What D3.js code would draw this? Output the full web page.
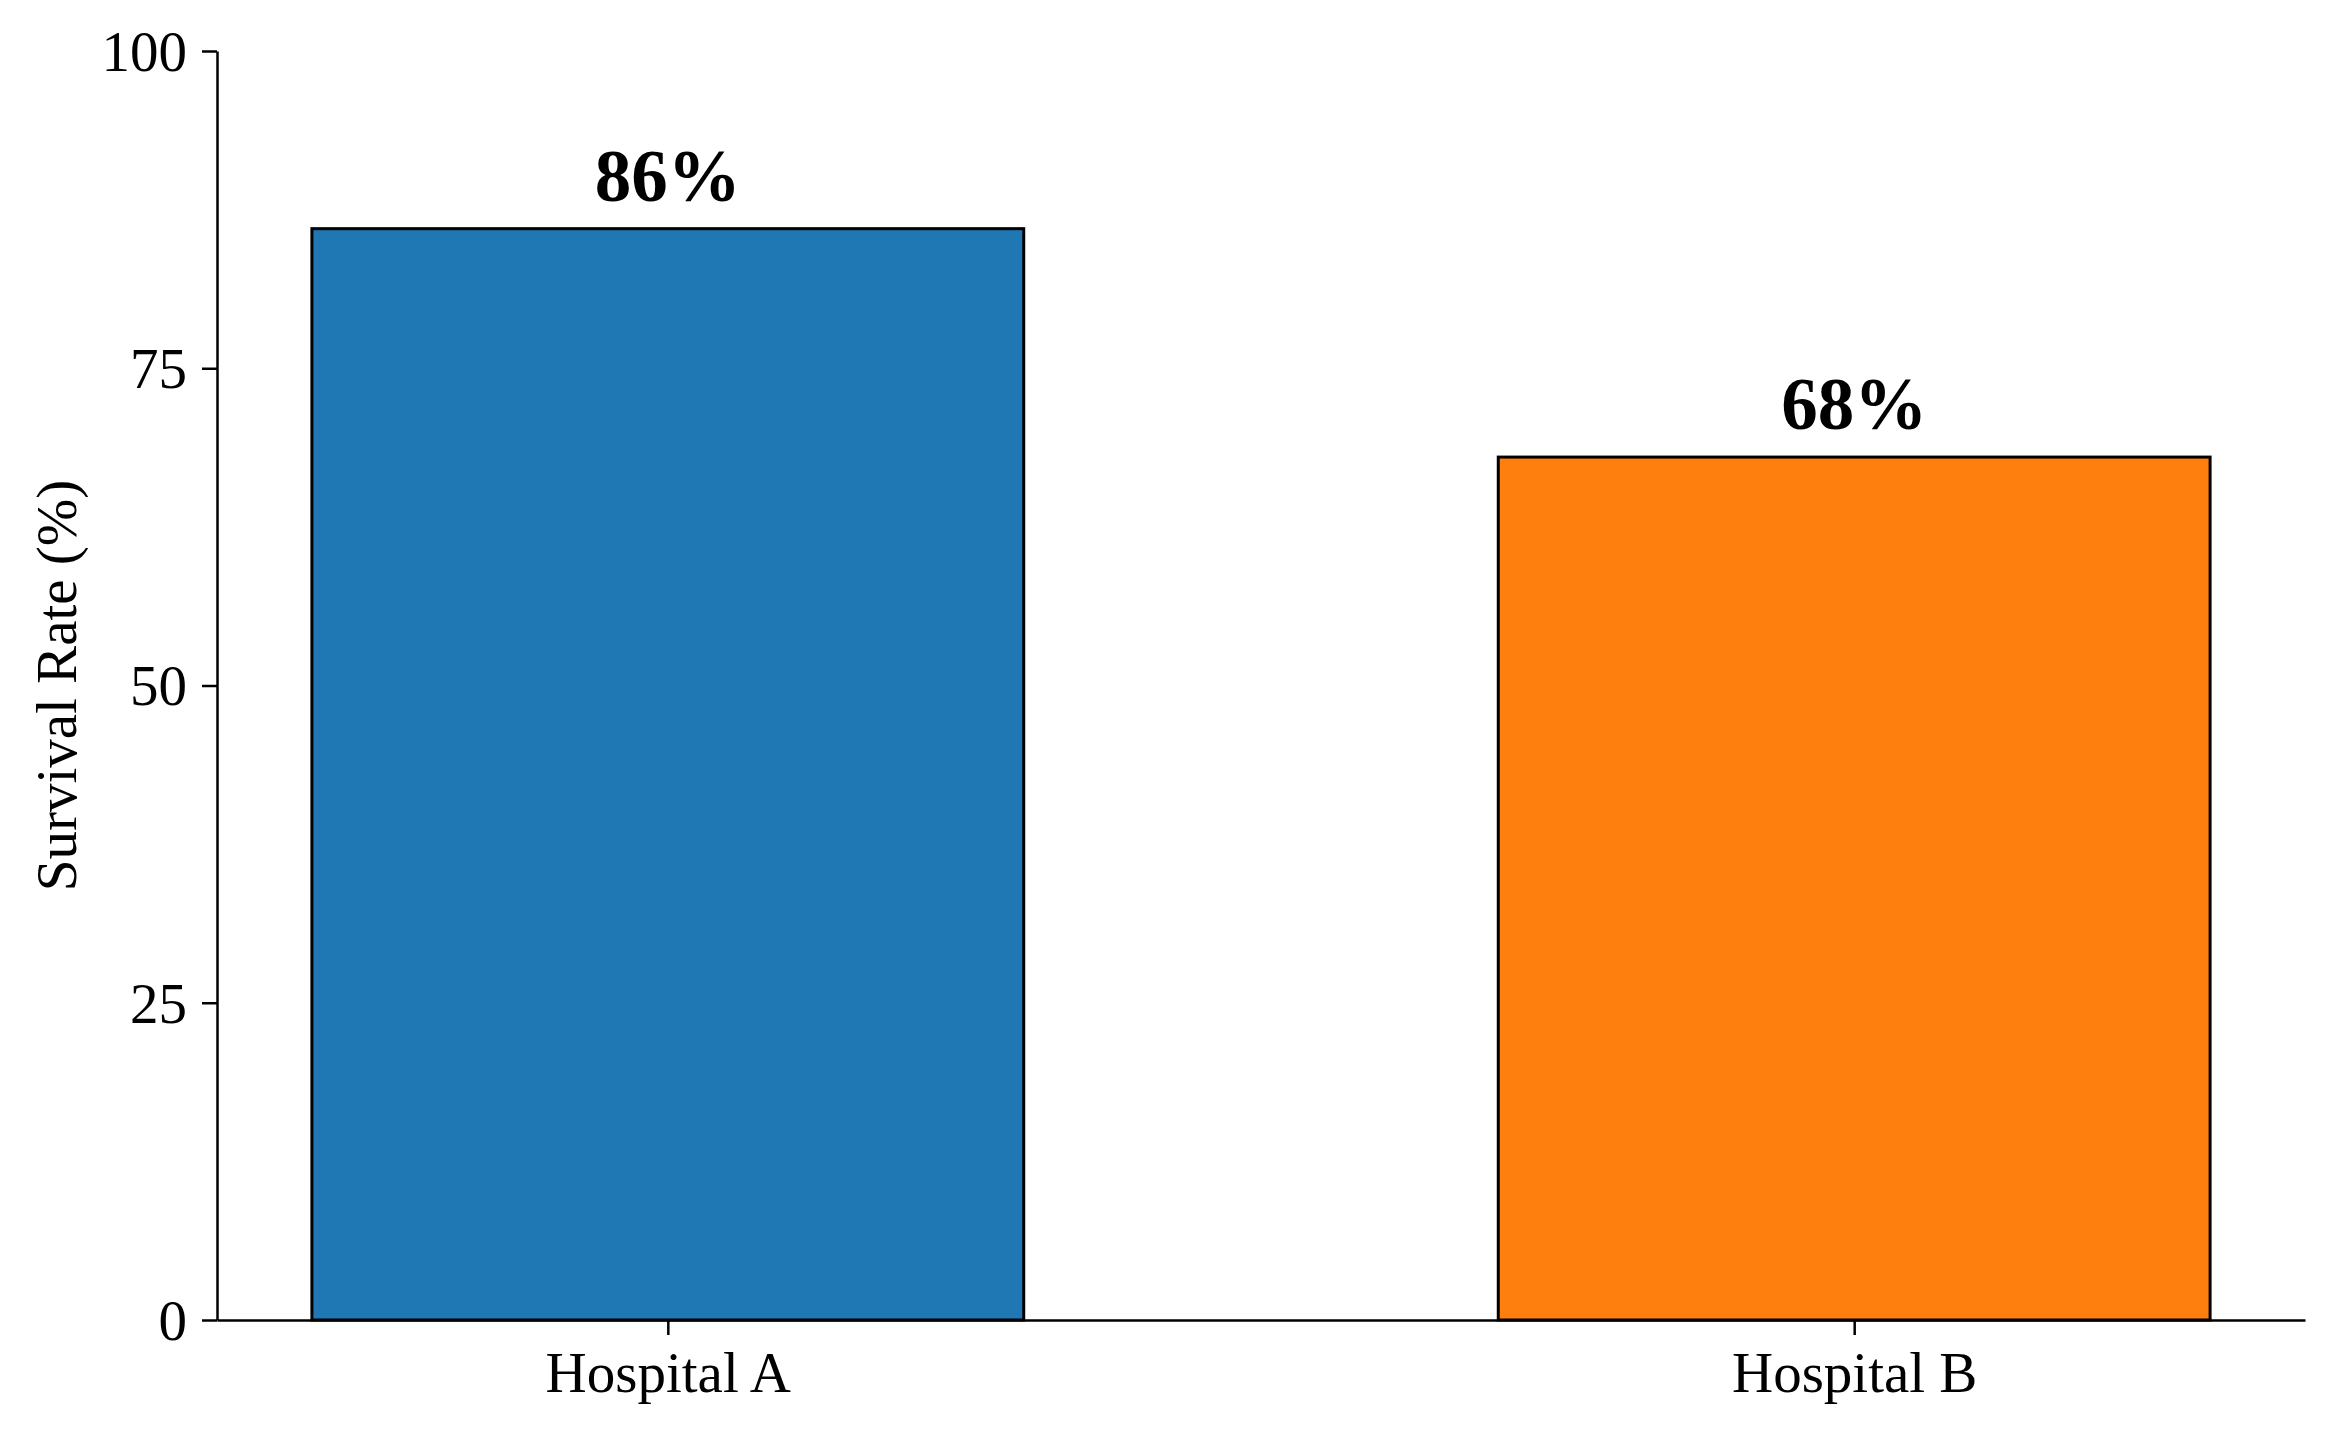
<!DOCTYPE html>
<html>
<head>
<meta charset="utf-8">
<script src="https://cdn.jsdelivr.net/npm/d3@7"></script>
<style>
  html, body { margin: 0; padding: 0; background: #fff; }
  svg { display: block; }
  text { font-family: "Liberation Serif", "Times New Roman", serif; }
</style>
</head>
<body>
<script>
const categories = ["Hospital A", "Hospital B"];
const survivalRates = [86, 68];
const barColors = ["#1f77b4", "#ff7f0e"];
const yTicks = [0, 25, 50, 75, 100];
const yLabel = "Survival Rate (%)";

const W = 2333, H = 1433;
const mLeft = 217, mRight = 2305, mTop = 51, mBottom = 1320;
const fs = 57, labelFs = 73;

const svg = d3.select("body").append("svg").attr("width", W).attr("height", H);

const x = d3.scaleLinear().domain([-0.38, 1.38]).range([mLeft, mRight]);
const y = d3.scaleLinear().domain([0, 100]).range([mBottom, mTop]);
const barWidth = 0.6;

// bars
svg.append("g").selectAll("rect").data(survivalRates).join("rect")
  .attr("x", (d, i) => x(i - barWidth / 2))
  .attr("width", (d, i) => x(i + barWidth / 2) - x(i - barWidth / 2))
  .attr("y", d => y(d))
  .attr("height", d => y(0) - y(d))
  .attr("fill", (d, i) => barColors[i])
  .attr("stroke", "#000")
  .attr("stroke-width", 3);

// value labels
svg.append("g").selectAll("text").data(survivalRates).join("text")
  .attr("x", (d, i) => x(i))
  .attr("y", d => y(d) - 28)
  .attr("text-anchor", "middle")
  .attr("font-size", labelFs)
  .attr("font-weight", "bold")
  .attr("fill", "#000")
  .text(d => d + "%");

// y axis
const yAxis = d3.axisLeft(y).tickValues(yTicks).tickSize(15).tickPadding(15).tickSizeOuter(0);
const gy = svg.append("g").attr("transform", `translate(${mLeft},0)`).call(yAxis);
gy.select(".domain").attr("stroke", "#000").attr("stroke-width", 2.5);
gy.selectAll(".tick line").attr("stroke", "#000").attr("stroke-width", 2.5);
gy.selectAll(".tick text").attr("font-size", fs).attr("fill", "#000")
  .attr("font-family", '"Liberation Serif", "Times New Roman", serif')
  .attr("dy", "0.34em");

// x axis
const xAxis = d3.axisBottom(x).tickValues(categories.map((c, i) => i))
  .tickFormat(i => categories[i]).tickSize(15).tickPadding(10).tickSizeOuter(0);
const gx = svg.append("g").attr("transform", `translate(0,${mBottom})`).call(xAxis);
gx.select(".domain").attr("stroke", "#000").attr("stroke-width", 2.5);
gx.selectAll(".tick line").attr("stroke", "#000").attr("stroke-width", 2.5);
gx.selectAll(".tick text").attr("font-size", fs).attr("fill", "#000")
  .attr("font-family", '"Liberation Serif", "Times New Roman", serif')
  .attr("dy", null).attr("y", 72);

// y label
svg.append("text")
  .attr("transform", `translate(76,${(mTop + mBottom) / 2}) rotate(-90)`)
  .attr("text-anchor", "middle")
  .attr("font-size", fs)
  .attr("fill", "#000")
  .text(yLabel);
</script>
</body>
</html>
